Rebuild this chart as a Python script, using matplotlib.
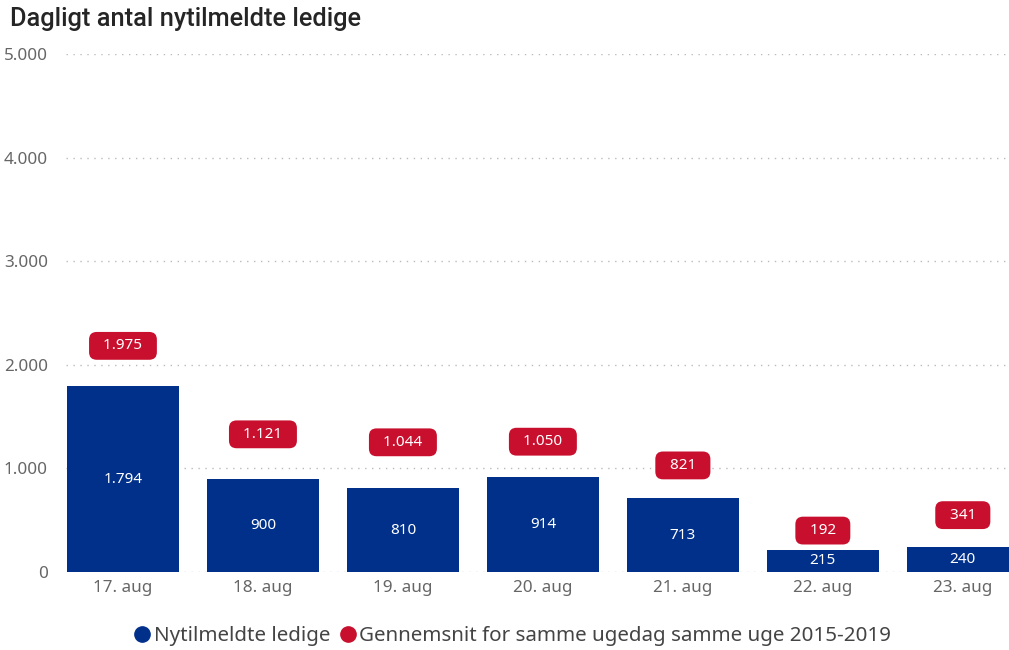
import matplotlib.pyplot as plt
from matplotlib.lines import Line2D

plt.rcParams['font.family'] = ['Noto Sans', 'DejaVu Sans']

# data
dates = ["17. aug", "18. aug", "19. aug", "20. aug", "21. aug", "22. aug", "23. aug"]
nye_ledige = [1794, 900, 810, 914, 713, 215, 240]
gennemsnit = [1975, 1121, 1044, 1050, 821, 192, 341]
yticks = [0, 1000, 2000, 3000, 4000, 5000]
ytick_labels = ["0", "1.000", "2.000", "3.000", "4.000", "5.000"]

blue = "#00308a"
red = "#c8102e"
grey = "#666666"


def fmt(v):
    return f"{v:,}".replace(",", ".")


fig = plt.figure(figsize=(10.09, 6.5), dpi=100)
ax = fig.add_axes([66 / 1009, 78 / 650, 1 - 66 / 1009, 518 / 650])

x = range(len(dates))
ax.bar(x, nye_ledige, width=0.8, color=blue, zorder=2)

# bar value labels (white, centred)
for i, v in enumerate(nye_ledige):
    ax.text(i, v / 2, fmt(v), ha="center", va="center", color="white", fontsize=11, zorder=3)

# average labels in red rounded boxes above their value
for i, v in enumerate(gennemsnit):
    ax.annotate("  " + fmt(v) + "  ", xy=(i, v), xytext=(0, 15.5), textcoords="offset points",
                ha="center", va="center", color="white", fontsize=11, zorder=4,
                bbox=dict(boxstyle="round,pad=0.42,rounding_size=0.5", fc=red, ec="none"))

ax.set_xlim(-0.407, 6.33)
ax.set_ylim(0, 5000)
ax.set_yticks(yticks)
ax.set_yticklabels(ytick_labels)
ax.set_xticks(list(x))
ax.set_xticklabels(dates)
ax.tick_params(axis="both", length=0, labelsize=12.3, colors=grey)
ax.tick_params(axis="y", pad=13)
ax.tick_params(axis="x", pad=6)
ax.grid(axis="y", color="#bbbbbb", linestyle=(0, (1, 4)), linewidth=1, zorder=0)
for s in ax.spines.values():
    s.set_visible(False)

fig.text(10 / 1009, 1 - 19 / 650, "Dagligt antal nytilmeldte ledige", fontsize=18.3,
         family=["Roboto", "DejaVu Sans"], fontweight="medium",
         color="#252525", va="center", ha="left")

handles = [
    Line2D([], [], marker="o", linestyle="none", color=blue, markersize=11),
    Line2D([], [], marker="o", linestyle="none", color=red, markersize=11),
]
fig.legend(handles, ["Nytilmeldte ledige", "Gennemsnit for samme ugedag samme uge 2015-2019"],
           loc="center", bbox_to_anchor=(511 / 1009, 1 - 636 / 650), ncol=2, frameon=False,
           fontsize=14.8, handletextpad=0.0, columnspacing=0.3, handlelength=1.1,
           labelcolor="#444444")

fig.savefig("out.png", dpi=100)
